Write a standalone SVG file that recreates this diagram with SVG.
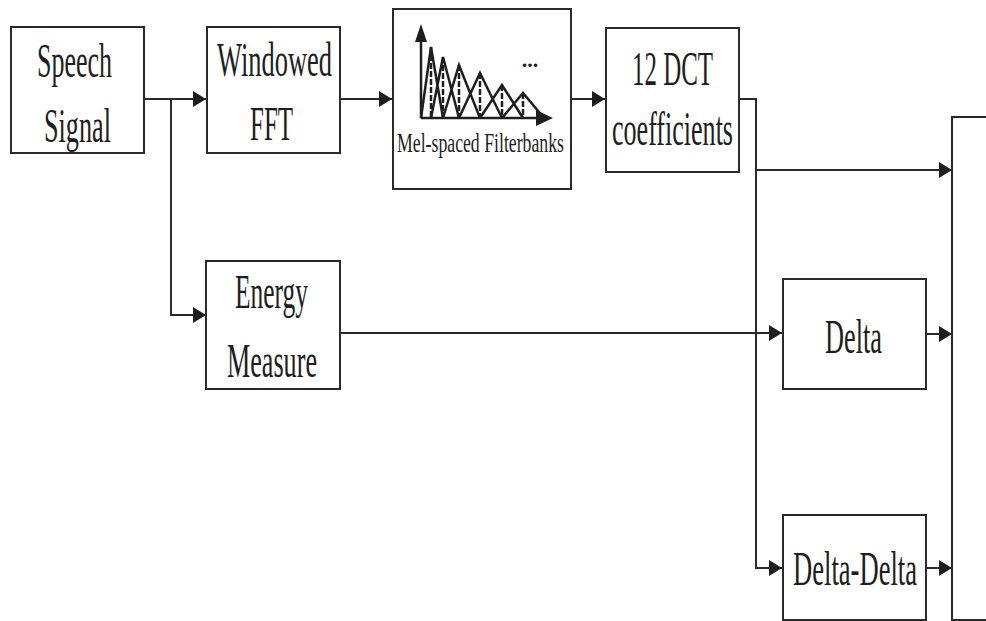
<svg xmlns="http://www.w3.org/2000/svg" width="986" height="621" viewBox="0 0 986 621">
<style>
.box{fill:#fff;stroke:#2a2a2a;stroke-width:2}
.ln{fill:none;stroke:#2a2a2a;stroke-width:2}
.t{font-family:"Liberation Serif","Times New Roman",serif;font-size:48px;fill:#1e1e1e;text-anchor:middle}
.s{font-size:27px}
.fb{fill:none;stroke:#1e1e1e;stroke-width:2.5;stroke-linejoin:miter}
</style>
<defs>
<marker id="ah" markerUnits="userSpaceOnUse" markerWidth="14" markerHeight="16" refX="13" refY="8" orient="auto">
<path d="M0,0 L13,8 L0,16 z" fill="#1e1e1e"/>
</marker>
</defs>
<rect width="986" height="621" fill="#fff"/>
<g id="connectors">
<path class="ln" d="M144,99 H206" marker-end="url(#ah)"/>
<path class="ln" d="M171,99 V315 H206" marker-end="url(#ah)"/>
<path class="ln" d="M340,99 H392" marker-end="url(#ah)"/>
<path class="ln" d="M571,99 H605" marker-end="url(#ah)"/>
<path class="ln" d="M739,99 H756 V568 H782" marker-end="url(#ah)"/>
<path class="ln" d="M756,170 H952" marker-end="url(#ah)"/>
<path class="ln" d="M340,333 H782" marker-end="url(#ah)"/>
<path class="ln" d="M926,334 H952" marker-end="url(#ah)"/>
<path class="ln" d="M926,568 H952" marker-end="url(#ah)"/>
</g>
<g id="speech">
<rect class="box" x="11" y="27" width="133" height="126"/>
<text class="t" x="74.5" y="77" textLength="75" lengthAdjust="spacingAndGlyphs">Speech</text>
<text class="t" x="77.5" y="142" textLength="67" lengthAdjust="spacingAndGlyphs">Signal</text>
</g>
<g id="fft">
<rect class="box" x="207" y="27" width="133" height="126"/>
<text class="t" x="274.5" y="76" textLength="115" lengthAdjust="spacingAndGlyphs">Windowed</text>
<text class="t" x="271.5" y="140" textLength="43" lengthAdjust="spacingAndGlyphs">FFT</text>
</g>
<g id="mel">
<rect class="box" x="393" y="9" width="178" height="180"/>
<path class="fb" d="M421,118 V40"/>
<path d="M415,42 L421,24 L427,42 z" fill="#1e1e1e"/>
<path class="fb" d="M421,118 H538"/>
<path d="M536,110 L553,118 L536,126 z" fill="#1e1e1e"/>
<path class="fb" d="M421,118 L431,47 L443,118 M431,118 L443,57 L459,118 M443,118 L459,65 L480,118 M459,118 L480,73 L502,118 M480,118 L502,85 L523,118 M502,118 L523,93 L544,118"/>
<path class="fb" stroke-width="2" stroke-dasharray="6,2" d="M431,47 V118 M443,57 V118 M459,65 V118 M480,73 V118 M502,85 V118 M523,93 V118"/>
<text class="t" x="530" y="67" style="font-size:22px;font-weight:bold">...</text>
<text class="t s" x="480.5" y="152" textLength="167" lengthAdjust="spacingAndGlyphs">Mel-spaced Filterbanks</text>
</g>
<g id="dct">
<rect class="box" x="606" y="28" width="133" height="144"/>
<text class="t" x="672.5" y="85" textLength="81" lengthAdjust="spacingAndGlyphs">12 DCT</text>
<text class="t" x="672.5" y="145" textLength="121" lengthAdjust="spacingAndGlyphs">coefficients</text>
</g>
<g id="energy">
<rect class="box" x="206" y="261" width="134" height="128"/>
<text class="t" x="271.5" y="308" textLength="73" lengthAdjust="spacingAndGlyphs">Energy</text>
<text class="t" x="272" y="377" textLength="90" lengthAdjust="spacingAndGlyphs">Measure</text>
</g>
<g id="delta">
<rect class="box" x="783" y="279" width="143" height="110"/>
<text class="t" x="853.5" y="353" textLength="57" lengthAdjust="spacingAndGlyphs">Delta</text>
</g>
<g id="deltadelta">
<rect class="box" x="783" y="515" width="143" height="105"/>
<text class="t" x="855" y="585" textLength="124" lengthAdjust="spacingAndGlyphs">Delta-Delta</text>
</g>
<g id="output">
<rect class="box" x="952" y="117" width="60" height="503"/>
</g>
</svg>
